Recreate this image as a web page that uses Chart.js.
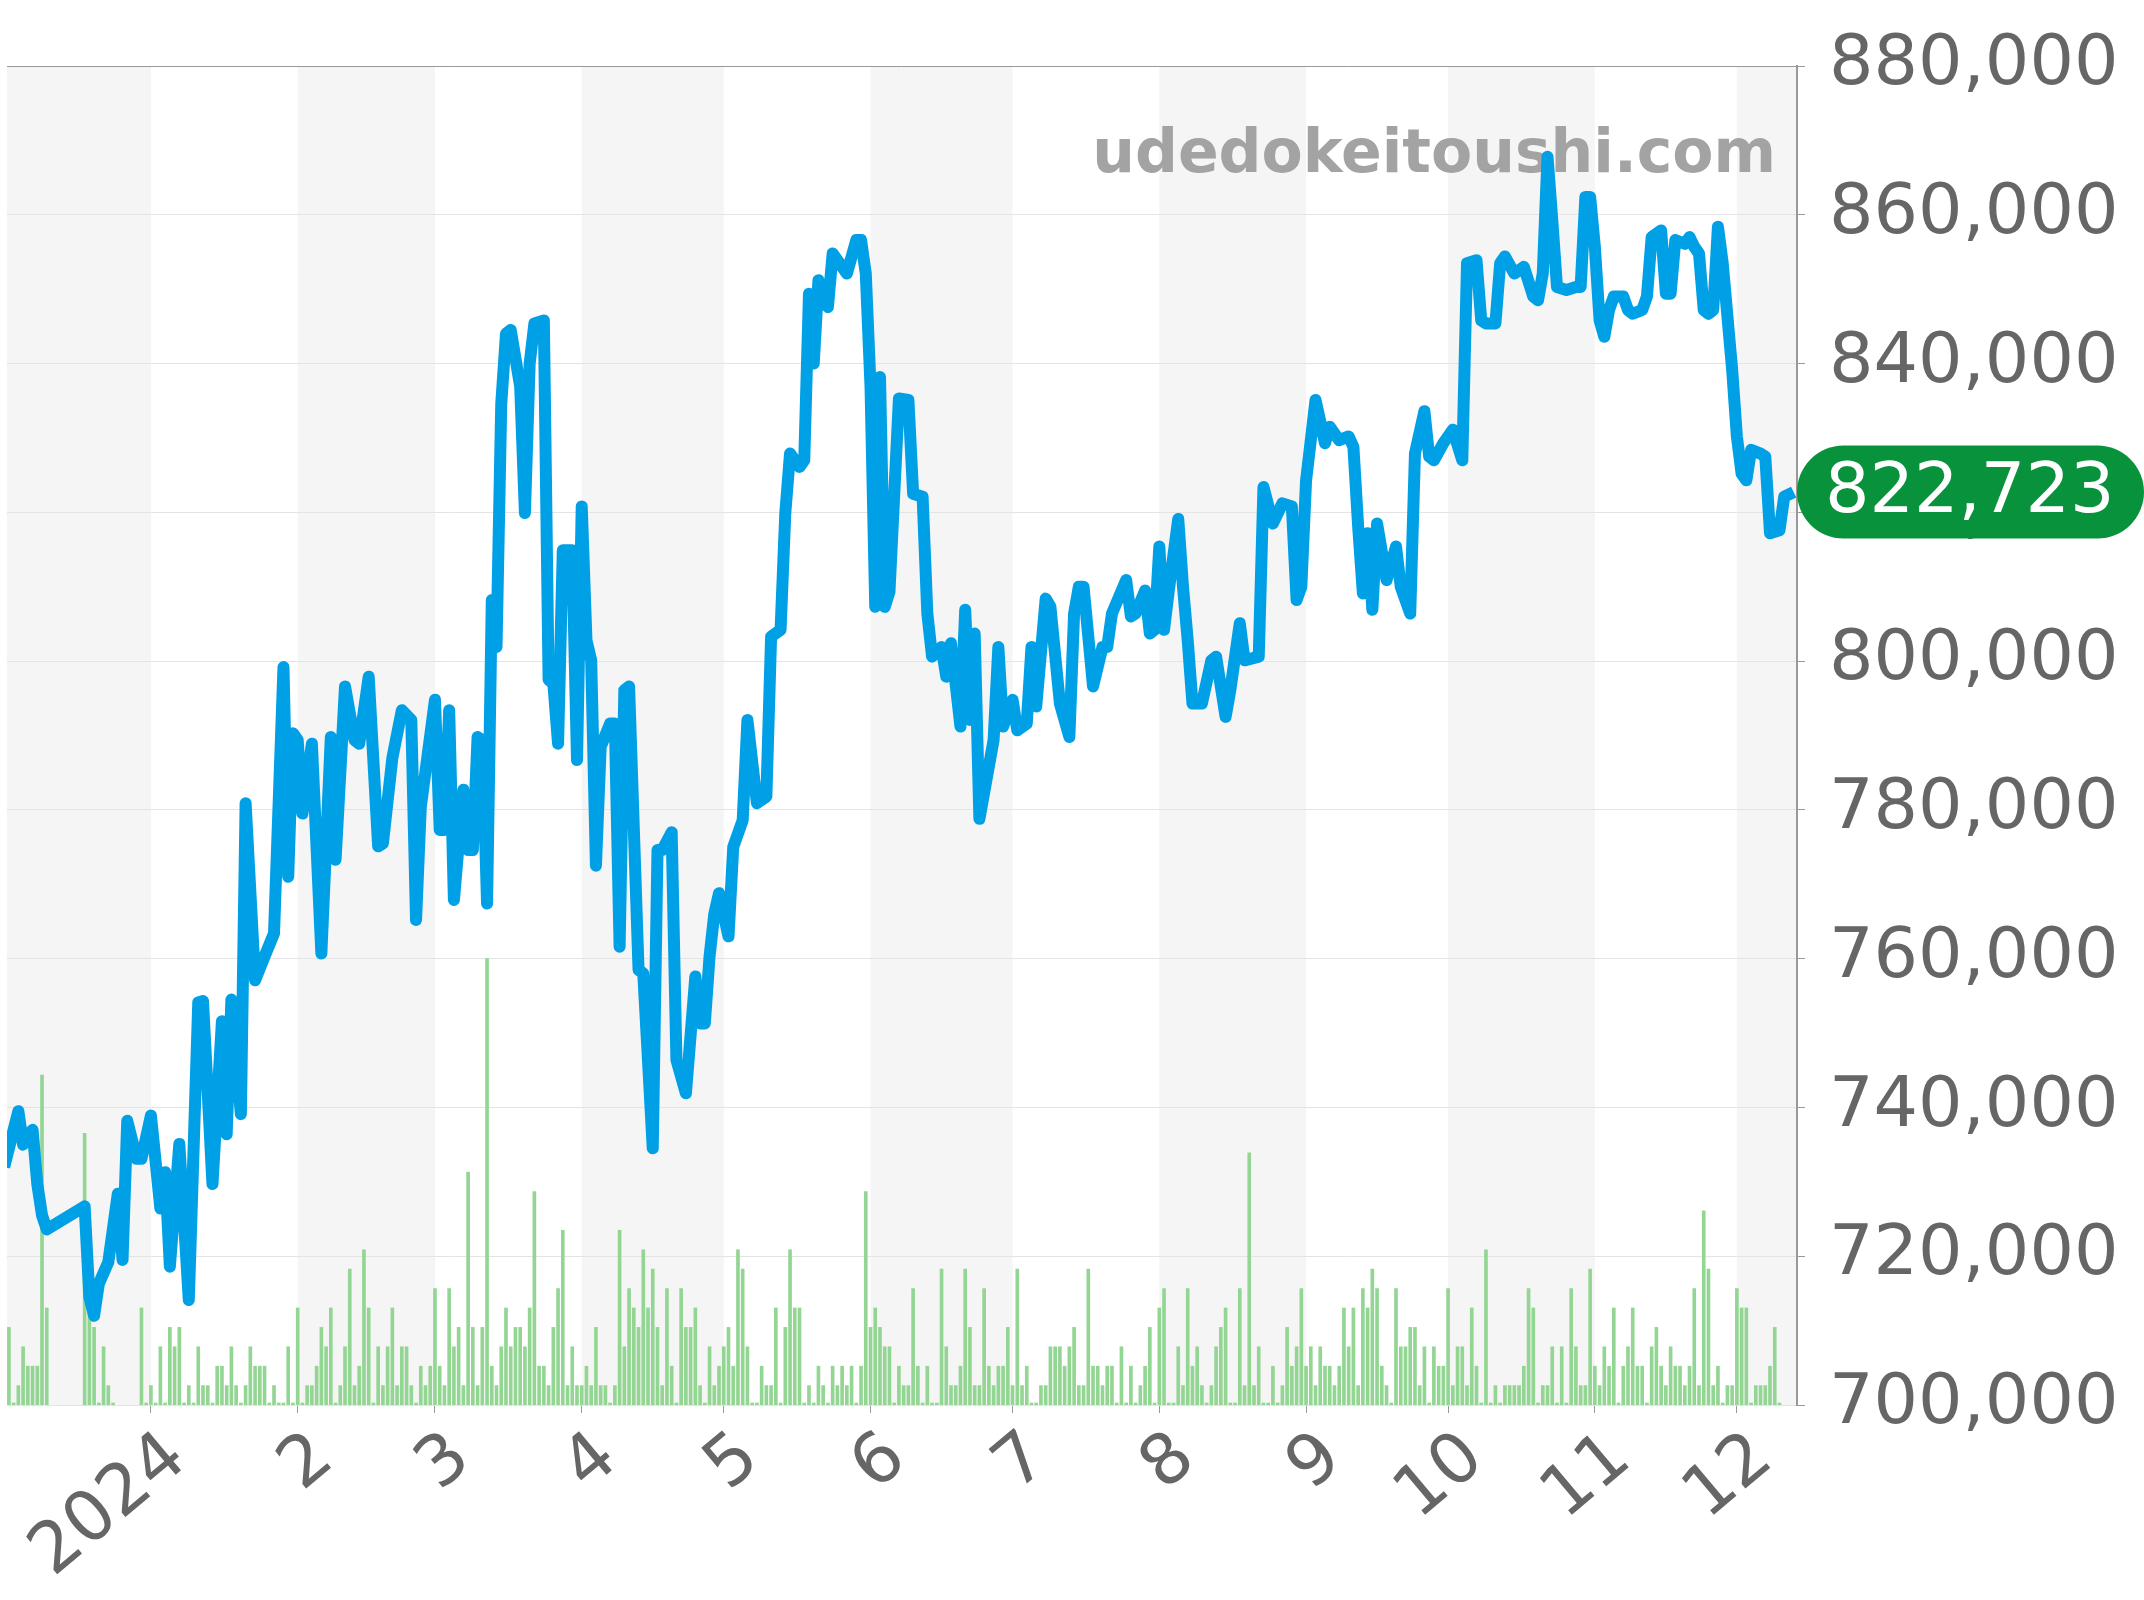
<!DOCTYPE html>
<html>
<head>
<meta charset="utf-8">
<script src="https://cdn.jsdelivr.net/npm/chart.js@4.4.1/dist/chart.umd.min.js"></script>
<style>
html, body { margin: 0; padding: 0; background: #fff; }
</style>
</head>
<body>
<canvas id="chart" width="2144" height="1600"></canvas>
<script>
// day offsets are counted from 2023-12-01
const priceDay = [
  0, 3, 4, 6, 7, 8, 9, 17, 18, 19, 20, 22, 24, 25, 26, 28, 29, 31, 33, 34, 35, 37, 39, 41, 42, 44, 46, 47, 48, 50,
  51, 53, 55, 57, 59, 60, 61, 62, 63, 65, 67, 69, 70, 72, 74, 75, 77, 79, 80, 82, 84, 86, 87, 88, 91, 92, 93, 94, 95, 97,
  98, 99, 100, 101, 102, 103, 104, 105, 106, 107, 109, 110, 111, 112, 114, 115, 116, 117, 118, 120, 121, 122, 123, 124, 125, 126, 128, 129, 130, 131,
  132, 134, 135, 137, 138, 139, 141, 142, 144, 146, 147, 148, 149, 150, 151, 153, 154, 156, 157, 159, 161, 162, 164, 165, 166, 168, 169, 170, 171, 172,
  174, 175, 178, 180, 181, 182, 183, 184, 185, 186, 187, 189, 191, 192, 194, 195, 196, 198, 199, 200, 202, 203, 204, 205, 206, 209, 210, 211, 213, 214,
  216, 217, 218, 220, 221, 223, 225, 226, 227, 228, 230, 232, 233, 234, 237, 238, 239, 241, 242, 243, 244, 245, 246, 248, 249, 250, 251, 253, 255, 256,
  258, 259, 261, 262, 265, 266, 268, 270, 272, 273, 274, 275, 277, 279, 280, 282, 284, 285, 286, 287, 288, 289, 290, 292, 294, 295, 297, 298, 300, 301,
  302, 304, 306, 308, 309, 311, 312, 313, 315, 316, 317, 319, 321, 323, 324, 325, 326, 327, 328, 330, 332, 333, 334, 335, 336, 337, 338, 339, 340, 342,
  343, 344, 346, 347, 348, 350, 351, 352, 353, 355, 356, 357, 358, 359, 360, 361, 362, 363, 365, 366, 367, 368, 369, 371, 372, 373, 375, 376, 378
];
const priceValue = [
  732000, 739500, 735000, 737000, 729700, 725500, 723600, 726700, 714500, 712000, 716300, 719200, 728400, 719500, 738200, 733100, 733100, 738900, 726400, 731300, 718600, 735100, 714100, 754100, 754300, 729700, 751600, 736400, 754500, 739100,
  780900, 757100, 760300, 763400, 799200, 771000, 790300, 789400, 779500, 788900, 760700, 789800, 773300, 796600, 789400, 788900, 797900, 775100, 775500, 787000, 793400, 792100, 765200, 780400, 794800, 777300, 777300, 793400, 767900, 782700,
  774600, 774600, 789800, 789400, 767400, 808200, 801900, 834600, 844000, 844500, 836900, 819900, 840000, 845400, 845800, 797500, 797000, 788900, 814900, 814900, 786700, 820800, 802800, 800100, 772500, 788500, 791600, 791600, 761600, 796100,
  796600, 758500, 758000, 734500, 774600, 774600, 777000, 746400, 741900, 757600, 751300, 751300, 760300, 766000, 768800, 763000, 775000, 778600, 792100, 780900, 781800, 803300, 804200, 819900, 827900, 826100, 827000, 849400, 840000, 851200,
  847600, 854800, 852100, 856600, 856600, 852100, 836900, 807300, 838200, 807300, 809300, 835300, 835100, 822500, 822100, 806400, 800600, 801900, 797900, 802400, 791200, 806900, 792100, 803700, 778800, 789400, 801900, 791200, 794800, 790700,
  791600, 801900, 793900, 808400, 807300, 794300, 789800, 806400, 810000, 810000, 796600, 801900, 801900, 806400, 810900, 806000, 806400, 809500, 803700, 804200, 815400, 804200, 809500, 819100, 810000, 802800, 794300, 794300, 800100, 800600,
  792500, 796100, 805100, 800100, 800600, 823400, 818500, 821200, 820800, 808200, 810000, 824300, 835100, 829300, 831500, 829700, 830200, 828800, 818100, 809100, 817200, 806900, 818500, 810900, 815400, 810000, 806400, 827900, 833600, 827500,
  827000, 829300, 831100, 827000, 853500, 853900, 845800, 845400, 845400, 853500, 854400, 852100, 853000, 849000, 848500, 852100, 867800, 859300, 850300, 849900, 850300, 850300, 862400, 862400, 855700, 845800, 843600, 847200, 849000, 849000,
  847200, 846700, 847200, 849000, 857000, 857900, 849400, 849400, 856600, 856100, 857000, 855700, 854800, 847200, 846700, 847200, 858400, 853500, 839200, 830200, 825200, 824300, 828400, 827900, 827500, 817200, 817600, 822100, 822723
];

// daily counts starting at day 1 (2023-12-02); null = no data that day
const volumeStartDay = 1;
const volumeCount = [
  4, 0, 1, 3, 2, 2, 2, 17, 5,
  null, null, null, null, null, null, null,
  14, 5, 4, 0, 3, 1, 0,
  null, null, null, null, null,
  5, 0, 1, 0, 3, 0, 4, 3, 4, 0, 1, 0, 3, 1, 1, 0, 2, 2, 1, 3, 1, 0, 1, 3, 2, 2, 2, 0, 1, 0, 0, 3, 0,
  5, 0, 1, 1, 2, 4, 3, 5, 0, 1, 3, 7, 1, 2, 8, 5, 0, 3, 1, 3, 5, 1, 3, 3, 1, 0, 2, 1, 2,
  6, 2, 1, 6, 3, 4, 1, 12, 4, 1, 4, 23, 2, 1, 3, 5, 3, 4, 4, 3, 5, 11, 2, 2, 1, 4, 6, 9, 1, 3, 1,
  1, 2, 1, 4, 1, 1, 0, 1, 9, 3, 6, 5, 4, 8, 5, 7, 4, 1, 6, 2, 0, 6, 4, 4, 5, 1, 0, 3, 1, 2,
  3, 4, 2, 8, 7, 3, 0, 0, 2, 1, 1, 5, 0, 4, 8, 5, 5, 0, 1, 0, 2, 1, 0, 2, 1, 2, 1, 2, 0, 2, 11,
  4, 5, 4, 3, 3, 0, 2, 1, 1, 6, 2, 0, 2, 0, 0, 7, 3, 1, 1, 2, 7, 4, 1, 1, 6, 2, 1, 2, 2, 4,
  1, 7, 1, 2, 0, 0, 1, 1, 3, 3, 3, 2, 3, 4, 1, 1, 7, 2, 2, 1, 2, 2, 0, 3, 0, 2, 0, 1, 2, 4, 0,
  5, 6, 0, 0, 3, 1, 6, 2, 3, 1, 0, 1, 3, 4, 5, 0, 0, 6, 1, 13, 1, 3, 0, 0, 2, 0, 1, 4, 2, 3, 6,
  2, 3, 1, 3, 2, 2, 1, 2, 5, 3, 5, 1, 6, 5, 7, 6, 2, 1, 0, 6, 3, 3, 4, 4, 1, 3, 0, 3, 2, 2,
  6, 1, 3, 3, 1, 5, 2, 0, 8, 0, 1, 0, 1, 1, 1, 1, 2, 6, 5, 0, 1, 1, 3, 0, 3, 0, 6, 3, 1, 1, 7,
  2, 1, 3, 2, 5, 0, 2, 3, 5, 2, 2, 0, 3, 4, 2, 1, 3, 2, 2, 1, 2, 6, 1, 10, 7, 1, 2, 0, 1, 1,
  6, 5, 5, 0, 1, 1, 1, 2, 4, 0
];

const monthLabels = ['2024', '2', '3', '4', '5', '6', '7', '8', '9', '10', '11', '12'];
const lastPrice = 822723;
const siteName = 'udedokeitoushi.com';

const DAY = 86400000;
const origin = Date.UTC(2023, 11, 1);
// month starts from Dec 2023 to Jan 2025, as day offsets
const monthStarts = [];
for (let m = 11; m <= 25; m++) {
  monthStarts.push((Date.UTC(2023, m, 1) - origin) / DAY);
}
const tickDays = monthStarts.slice(1, 13);

Chart.defaults.font.family = '"DejaVu Sans", sans-serif';

const bandPlugin = {
  id: 'bands',
  beforeDraw(chart) {
    const { ctx, chartArea: a } = chart;
    const x = chart.scales.x;
    ctx.save();
    ctx.fillStyle = '#f5f5f5';
    for (let i = 0; i < monthStarts.length - 1; i += 2) {
      const x0 = Math.max(a.left, x.getPixelForValue(monthStarts[i]));
      const x1 = Math.min(a.right, x.getPixelForValue(monthStarts[i + 1]));
      if (x1 > x0) ctx.fillRect(x0, a.top, x1 - x0, a.bottom - a.top);
    }
    ctx.restore();
  }
};

const watermarkPlugin = {
  id: 'watermark',
  beforeDatasetsDraw(chart) {
    const { ctx, chartArea: a } = chart;
    ctx.save();
    ctx.font = 'bold 60px "DejaVu Sans"';
    ctx.fillStyle = '#a3a3a3';
    ctx.textAlign = 'right';
    ctx.textBaseline = 'alphabetic';
    ctx.fillText(siteName, a.right - 21, a.top + 106);
    ctx.restore();
  }
};

const badgePlugin = {
  id: 'lastBadge',
  afterDraw(chart) {
    const { ctx, chartArea: a } = chart;
    const y = chart.scales.y.getPixelForValue(lastPrice);
    const h = 93;
    ctx.save();
    ctx.fillStyle = '#08923b';
    ctx.beginPath();
    ctx.roundRect(a.right, y - h / 2, chart.width - a.right, h, h / 2);
    ctx.fill();
    ctx.fillStyle = '#fff';
    ctx.font = '70px "DejaVu Sans"';
    ctx.textAlign = 'left';
    ctx.textBaseline = 'middle';
    ctx.fillText(lastPrice.toLocaleString('en-US'), a.right + 28, y + 2);
    ctx.restore();
  }
};

new Chart(document.getElementById('chart'), {
  data: {
    datasets: [{
      type: 'line',
      data: priceDay.map((d, i) => ({ x: d, y: priceValue[i] })),
      yAxisID: 'y',
      borderColor: '#00a0e6',
      borderWidth: 12,
      borderJoinStyle: 'round',
      pointRadius: 0,
      tension: 0,
      order: 0
    }, {
      type: 'bar',
      data: volumeCount.map((v, i) => ({ x: volumeStartDay + i, y: v })),
      yAxisID: 'yv',
      backgroundColor: '#93d593',
      barThickness: 3,
      minBarLength: 2,
      order: 1
    }]
  },
  options: {
    responsive: false,
    animation: false,
    layout: { padding: { left: 7, top: 63, right: 25, bottom: 0 } },
    plugins: { legend: { display: false }, tooltip: { enabled: false } },
    scales: {
      x: {
        type: 'linear',
        min: 0.6,
        max: 378.7,
        offset: false,
        border: { display: false },
        grid: { offset: false, drawOnChartArea: false, drawTicks: true, tickLength: 8, tickColor: '#999' },
        afterBuildTicks: s => { s.ticks = tickDays.map(v => ({ value: v })); },
        ticks: {
          autoSkip: false,
          minRotation: 40,
          maxRotation: 40,
          labelOffset: 27,
          color: '#666',
          padding: 4,
          font: { size: 70 },
          callback: v => monthLabels[tickDays.indexOf(v)]
        },
        afterFit: s => { s.height = 195; }
      },
      y: {
        position: 'right',
        min: 700000,
        max: 880000,
        border: { color: '#999', width: 2 },
        grid: {
          color: c => (c.tick && c.tick.value === 880000) ? '#999' : '#e4e4e4',
          tickColor: '#999',
          tickLength: 8
        },
        ticks: {
          stepSize: 20000,
          color: '#666',
          padding: 24,
          font: { size: 70 },
          callback: v => v.toLocaleString('en-US')
        },
        afterFit: s => { s.width = 322; }
      },
      yv: { display: false, min: 0, max: 69 }
    }
  },
  plugins: [bandPlugin, watermarkPlugin, badgePlugin]
});
</script>
</body>
</html>
